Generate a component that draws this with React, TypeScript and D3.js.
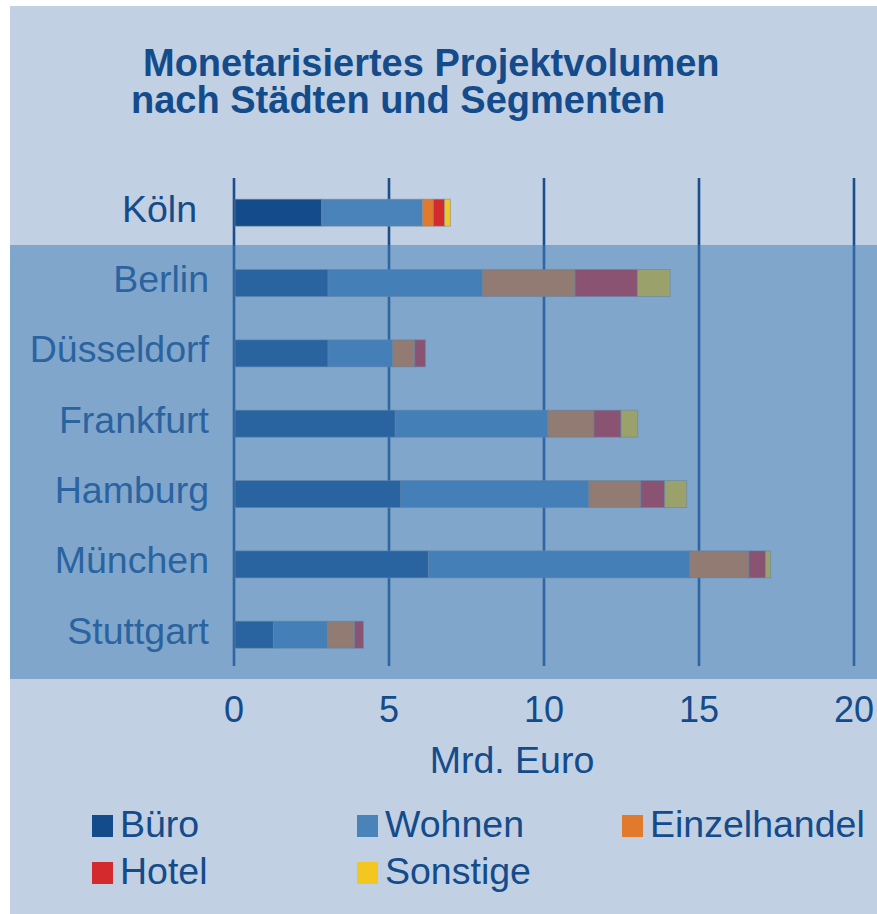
import React from "react";
import { scaleLinear, scalePoint, stack } from "d3";

// Werte in Mrd. Euro
const cities = ["Köln", "Berlin", "Düsseldorf", "Frankfurt", "Hamburg", "München", "Stuttgart"];
const buero = [2.8, 3.0, 3.0, 5.17, 5.35, 6.24, 1.24];
const wohnen = [3.25, 4.98, 2.08, 4.92, 6.06, 8.43, 1.74];
const einzelhandel = [0.35, 2.99, 0.72, 1.49, 1.68, 1.91, 0.88];
const hotel = [0.36, 2.01, 0.34, 0.87, 0.77, 0.53, 0.28];
const sonstige = [0.19, 1.06, 0, 0.54, 0.71, 0.17, 0];

const segments = ["Büro", "Wohnen", "Einzelhandel", "Hotel", "Sonstige"];
const segColors = ["#134b8b", "#4a82ba", "#e27a2e", "#d42a2e", "#f4c620"];
const xTicks = [0, 5, 10, 15, 20];

const W = 877;
const H = 914;
const FONT = "'Liberation Sans', Arial, Helvetica, sans-serif";
const TEXT = "#134b8b";

export default function App() {
  const rows = cities.map((c, i) => ({
    city: c,
    "Büro": buero[i],
    Wohnen: wohnen[i],
    Einzelhandel: einzelhandel[i],
    Hotel: hotel[i],
    Sonstige: sonstige[i],
  }));
  const series = stack<any>().keys(segments)(rows);

  const x = scaleLinear().domain([0, 20]).range([234, 854]);
  const y = scalePoint<string>().domain(cities).range([212.7, 634.7]);
  const barH = 27;

  const legendCols = [92, 357, 622];
  const legendRows = [837, 884];

  return (
    <div style={{ position: "absolute", left: 0, top: 0 }}>
      <svg width={W} height={H} style={{ display: "block", background: "#fff" }}>
        {/* Karte */}
        <rect x={10} y={6} width={W - 10} height={H - 6} fill="#c1d0e3" />

        {/* Titel */}
        <text x={143} y={76} fontFamily={FONT} fontWeight="bold" fontSize={38} fill={TEXT}>
          Monetarisiertes Projektvolumen
        </text>
        <text x={131} y={113} fontFamily={FONT} fontWeight="bold" fontSize={38} fill={TEXT}>
          nach Städten und Segmenten
        </text>

        {/* Gitterlinien */}
        {xTicks.map((t) => (
          <line key={t} x1={x(t)} x2={x(t)} y1={178} y2={666} stroke="#1c4e8e" strokeWidth={2.6} />
        ))}

        {/* Balken */}
        {series.map((s, si) => (
          <g key={s.key} fill={segColors[si]}>
            {s.map((d, i) =>
              d[1] - d[0] > 0 ? (
                <rect
                  key={i}
                  x={x(d[0]) + 1}
                  y={(y(cities[i]) as number) - barH / 2}
                  width={x(d[1]) - x(d[0])}
                  height={barH}
                  stroke="rgba(130,140,155,0.55)"
                  strokeWidth={1}
                />
              ) : null
            )}
          </g>
        ))}

        {/* Städtenamen */}
        {cities.map((c) => (
          <text
            key={c}
            x={c === "Köln" ? 197 : 209}
            y={(y(c) as number) + 9}
            textAnchor="end"
            fontFamily={FONT}
            fontSize={37.5}
            fill={TEXT}
          >
            {c}
          </text>
        ))}

        {/* halbtransparentes Band */}
        <rect x={10} y={245} width={W - 10} height={434} fill="rgb(63,124,181)" opacity={0.5} />

        {/* Achsenbeschriftung */}
        {xTicks.map((t) => (
          <text key={t} x={x(t)} y={722} textAnchor="middle" fontFamily={FONT} fontSize={36} fill={TEXT}>
            {t}
          </text>
        ))}
        <text x={512} y={773} textAnchor="middle" fontFamily={FONT} fontSize={37.5} fill={TEXT}>
          Mrd. Euro
        </text>

        {/* Legende */}
        {segments.map((s, i) => {
          const lx = legendCols[i % 3];
          const ly = legendRows[Math.floor(i / 3)];
          return (
            <g key={s}>
              <rect x={lx} y={ly - 22} width={21} height={22} fill={segColors[i]} />
              <text x={lx + 28} y={ly} fontFamily={FONT} fontSize={37.5} fill={TEXT}>
                {s}
              </text>
            </g>
          );
        })}
      </svg>
    </div>
  );
}
